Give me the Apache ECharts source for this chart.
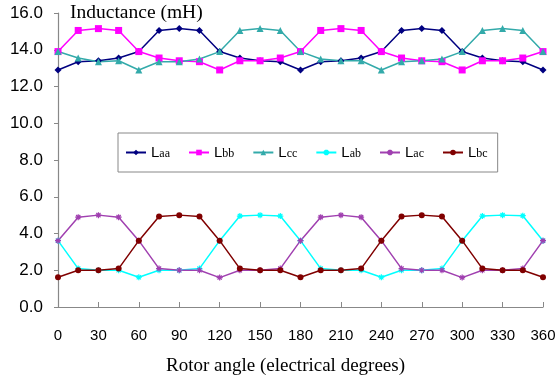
<!DOCTYPE html>
<html>
<head>
<meta charset="utf-8">
<script src="https://cdn.jsdelivr.net/npm/echarts@6/dist/echarts.min.js"></script>
<style>
  html, body { margin: 0; padding: 0; background: #fff; }
  #chart { width: 559px; height: 386px; }
</style>
</head>
<body>
<div id="chart"></div>
<script>
// Rotor angle in electrical degrees, one sample every 15 degrees
const angles = [0, 15, 30, 45, 60, 75, 90, 105, 120, 135, 150, 165, 180,
                195, 210, 225, 240, 255, 270, 285, 300, 315, 330, 345, 360];

// Self inductances (mH)
const Laa = [12.9, 13.35, 13.4, 13.55, 13.9, 15.05, 15.15, 15.05, 13.9, 13.55, 13.4, 13.35, 12.9,
             13.35, 13.4, 13.55, 13.9, 15.05, 15.15, 15.05, 13.9, 13.55, 13.4, 13.35, 12.9];
const Lbb = [13.9, 15.05, 15.15, 15.05, 13.9, 13.55, 13.4, 13.35, 12.9, 13.4, 13.4, 13.55, 13.9,
             15.05, 15.15, 15.05, 13.9, 13.55, 13.4, 13.35, 12.9, 13.4, 13.4, 13.55, 13.9];
const Lcc = [13.9, 13.55, 13.35, 13.4, 12.9, 13.35, 13.35, 13.5, 13.9, 15.05, 15.15, 15.05, 13.9,
             13.5, 13.4, 13.4, 12.9, 13.35, 13.4, 13.5, 13.9, 15.05, 15.15, 15.05, 13.9];

// Mutual inductances (mH)
const Lab = [3.61, 2.09, 2.0, 2.0, 1.62, 2.0, 2.0, 2.09, 3.61, 4.95, 5.0, 4.95, 3.61,
             2.09, 2.0, 2.0, 1.62, 2.0, 2.0, 2.09, 3.61, 4.95, 5.0, 4.97, 3.61];
const Lac = [3.61, 4.89, 5.0, 4.89, 3.61, 2.09, 2.0, 2.0, 1.6, 2.0, 2.0, 2.09, 3.61,
             4.89, 5.0, 4.89, 3.61, 2.09, 2.0, 2.0, 1.6, 2.0, 2.0, 2.09, 3.61];
const Lbc = [1.62, 2.0, 2.0, 2.09, 3.61, 4.93, 5.0, 4.93, 3.61, 2.09, 2.0, 2.0, 1.62,
             2.0, 2.0, 2.09, 3.61, 4.93, 5.0, 4.93, 3.61, 2.09, 2.0, 2.0, 1.62];

const seriesNames = ['Laa', 'Lbb', 'Lcc', 'Lab', 'Lac', 'Lbc'];
const yTicks = [0, 2, 4, 6, 8, 10, 12, 14, 16];

const asterisk = 'path://M0,5L10,5M5,0L5,10M1.5,1.5L8.5,8.5M8.5,1.5L1.5,8.5';

function pairs(values) {
  return angles.map((a, i) => [a, values[i]]);
}

const styles = {
  Laa: { color: '#000080', symbol: 'diamond', size: 7 },
  Lbb: { color: '#ff00ff', symbol: 'rect', size: 7 },
  Lcc: { color: '#33aaaa', symbol: 'triangle', size: 7 },
  Lab: { color: '#00ffff', symbol: asterisk, size: 6, stroke: true },
  Lac: { color: '#a040b0', symbol: asterisk, size: 6, stroke: true },
  Lbc: { color: '#800000', symbol: 'circle', size: 6 }
};

const values = { Laa, Lbb, Lcc, Lab, Lac, Lbc };

const chart = echarts.init(document.getElementById('chart'), null, { renderer: 'canvas' });

chart.setOption({
  animation: false,
  backgroundColor: '#ffffff',
  grid: { left: 58, right: 16, top: 13, bottom: 79, containLabel: false },
  title: {
    text: 'Inductance (mH)',
    left: 65, top: -2,
    textStyle: { fontFamily: 'Liberation Serif', fontSize: 19.5, fontWeight: 'normal', color: '#000' }
  },
  legend: {
    data: seriesNames,
    left: 118, top: 133, width: 440,
    padding: [12, 10, 12, 7],
    itemGap: 18,
    itemWidth: 20, itemHeight: 7,
    borderColor: '#888', borderWidth: 1,
    backgroundColor: '#fff',
    formatter: name => '{L|L}{s|' + name.slice(1) + '}',
    textStyle: {
      rich: {
        L: { fontFamily: 'Liberation Sans', fontSize: 15, color: '#000' },
        s: { fontFamily: 'Liberation Serif', fontSize: 12, color: '#000', padding: [3, 0, 0, 0] }
      }
    }
  },
  xAxis: {
    type: 'value', min: 0, max: 360, interval: 30,
    name: 'Rotor angle (electrical degrees)',
    nameLocation: 'middle', nameGap: 50,
    nameTextStyle: { fontFamily: 'Liberation Serif', fontSize: 19, color: '#000', padding: [0, 30, 0, 0] },
    axisLine: { lineStyle: { color: '#888', width: 1.2 } },
    axisTick: { inside: true, length: 5, lineStyle: { color: '#888' } },
    axisLabel: { fontFamily: 'Liberation Sans', fontSize: 15, color: '#000', margin: 21 },
    splitLine: { show: false }
  },
  yAxis: {
    type: 'value', min: 0, max: 16, interval: 2,
    axisLine: { show: true, lineStyle: { color: '#888', width: 1.2 } },
    axisTick: { show: true, inside: false, length: 4, lineStyle: { color: '#888' } },
    axisLabel: {
      fontFamily: 'Liberation Sans', fontSize: 17, color: '#000', margin: 15,
      formatter: v => yTicks.includes(v) ? v.toFixed(1) : ''
    },
    splitLine: { show: false }
  },
  series: seriesNames.map(name => {
    const s = styles[name];
    return {
      name,
      type: 'line',
      data: pairs(values[name]),
      symbol: s.symbol,
      symbolSize: s.size,
      showAllSymbol: true,
      lineStyle: { color: s.color, width: 1.5 },
      itemStyle: s.stroke
        ? { color: 'none', borderColor: s.color, borderWidth: 1.2 }
        : { color: s.color, borderColor: s.color, borderWidth: 0 },
      emphasis: { disabled: true }
    };
  })
});
</script>
</body>
</html>
